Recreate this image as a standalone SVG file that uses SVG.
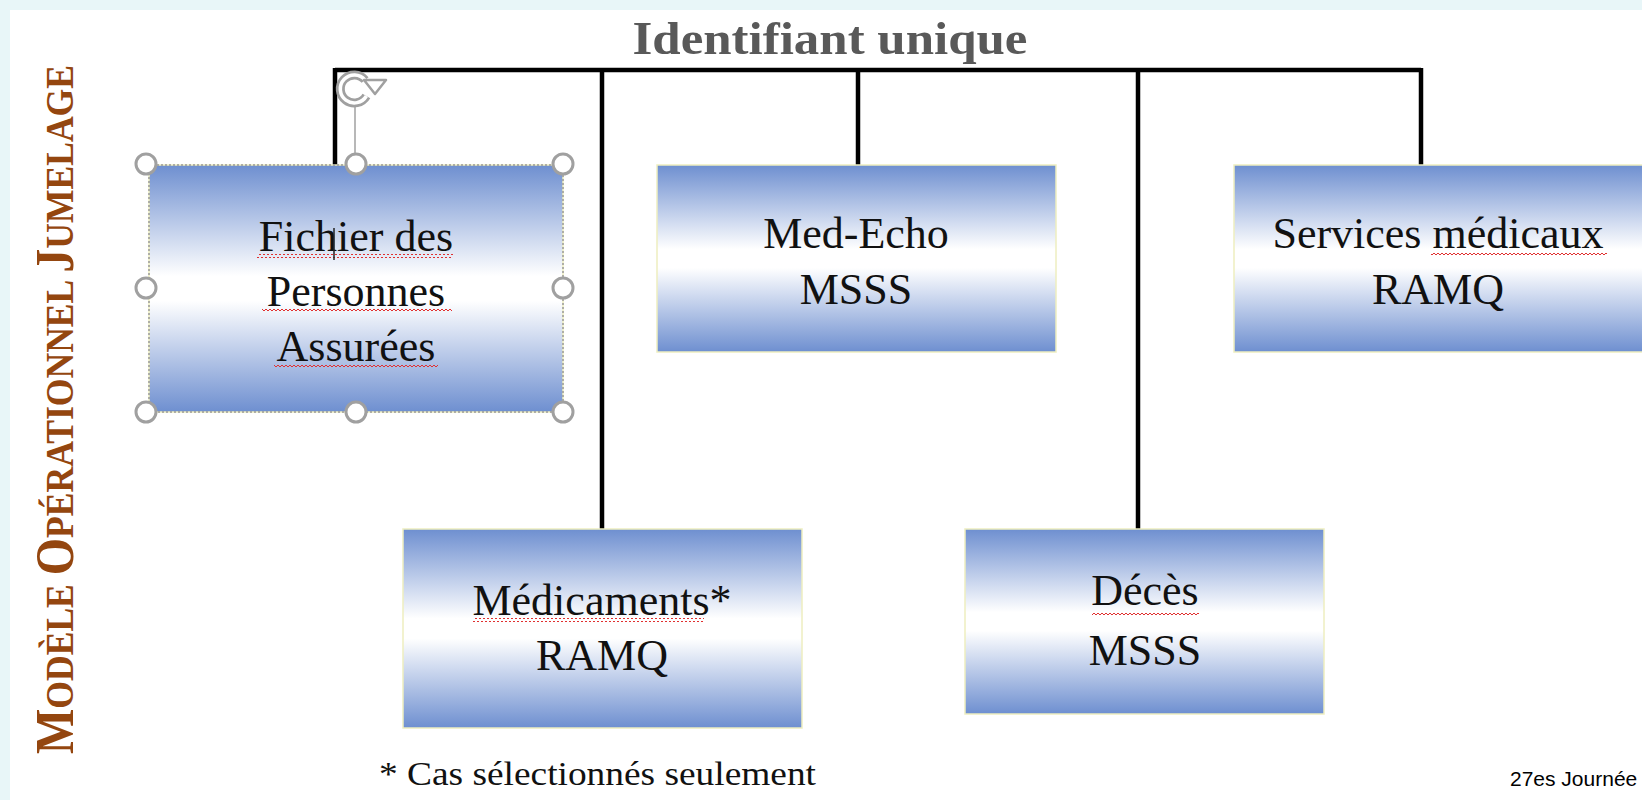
<svg xmlns="http://www.w3.org/2000/svg" width="1642" height="800" viewBox="0 0 1642 800">
<defs>
<linearGradient id="g" x1="0" y1="0" x2="0" y2="1">
<stop offset="0" stop-color="#6e8fd0"/>
<stop offset="0.45" stop-color="#ffffff"/>
<stop offset="0.55" stop-color="#ffffff"/>
<stop offset="1" stop-color="#6e8fd0"/>
</linearGradient>
<pattern id="sq" width="4" height="4" patternUnits="userSpaceOnUse">
<path d="M0,3 L2,1 L4,3" fill="none" stroke="#e03030" stroke-width="1"/>
</pattern>
<style>
.box{fill:url(#g);stroke:#eeeec0;stroke-width:1.5}
.t{font-family:"Liberation Serif",serif;font-size:44px;fill:#111;text-anchor:middle}
.c{stroke:#000;stroke-width:4.5;fill:none}
.h{fill:#fff;stroke:#a0a0a0;stroke-width:3}
.sq{fill:url(#sq)}
</style>
</defs>
<rect x="0" y="0" width="1642" height="800" fill="#e8f6f8"/>
<rect x="10" y="10" width="1632" height="790" fill="#ffffff"/>
<text x="830" y="54" font-family="Liberation Serif,serif" font-weight="bold" font-size="46" fill="#595959" text-anchor="middle" textLength="395" lengthAdjust="spacingAndGlyphs">Identifiant unique</text>
<text transform="translate(73,754) rotate(-90)" font-family="Liberation Serif,serif" font-weight="bold" fill="#94460f" textLength="689" lengthAdjust="spacingAndGlyphs"><tspan font-size="54">M</tspan><tspan font-size="40">ODÈLE </tspan><tspan font-size="54">O</tspan><tspan font-size="40">PÉRATIONNEL </tspan><tspan font-size="54">J</tspan><tspan font-size="40">UMELAGE</tspan></text>
<g id="connectors">
<path class="c" d="M335,70 H1421"/>
<path class="c" d="M335,68 V165"/>
<path class="c" d="M602,68 V529"/>
<path class="c" d="M858,68 V165"/>
<path class="c" d="M1138,68 V529"/>
<path class="c" d="M1421,68 V165"/>
</g>
<g id="fichier">
<rect class="box" x="149" y="165" width="414" height="247"/>
<rect x="149" y="165" width="414" height="247" fill="none" stroke="#999" stroke-width="1.5" stroke-dasharray="2,2"/>
<text class="t" x="356" y="251">Fichier des</text>
<text class="t" x="356" y="306">Personnes</text>
<text class="t" x="356" y="361">Assurées</text>
<rect class="sq" x="257" y="254" width="196" height="4"/>
<rect class="sq" x="262" y="309" width="190" height="4"/>
<rect class="sq" x="274" y="364" width="164" height="4"/>
<line x1="334" y1="228" x2="334" y2="260" stroke="#222" stroke-width="1.5"/>
<line x1="355" y1="103" x2="355" y2="154" stroke="#a0a0a0" stroke-width="1.5"/>
<circle class="h" cx="146" cy="164" r="10"/>
<circle class="h" cx="356" cy="164" r="10"/>
<circle class="h" cx="563" cy="164" r="10"/>
<circle class="h" cx="146" cy="288" r="10"/>
<circle class="h" cx="563" cy="288" r="10"/>
<circle class="h" cx="146" cy="412" r="10"/>
<circle class="h" cx="356" cy="412" r="10"/>
<circle class="h" cx="563" cy="412" r="10"/>
<path d="M365.1,80 A14,14 0 1 0 366.4,96" fill="none" stroke="#a0a0a0" stroke-width="9"/>
<path d="M365.1,80 A14,14 0 1 0 366.4,96" fill="none" stroke="#ffffff" stroke-width="3.5"/>
<path d="M364,80 L386,80 L375,94 Z" fill="#ffffff" stroke="#a0a0a0" stroke-width="2.5" stroke-linejoin="round"/>
</g>
<g id="medecho">
<rect class="box" x="657" y="165" width="399" height="187"/>
<text class="t" x="856" y="248">Med-Echo</text>
<text class="t" x="856" y="304">MSSS</text>
</g>
<g id="services">
<rect class="box" x="1234" y="165" width="420" height="187"/>
<text class="t" x="1438" y="248">Services médicaux</text>
<text class="t" x="1438" y="304">RAMQ</text>
<rect class="sq" x="1431" y="252" width="176" height="4"/>
</g>
<g id="medicaments">
<rect class="box" x="403" y="529" width="399" height="199"/>
<text class="t" x="602" y="615">Médicaments*</text>
<text class="t" x="602" y="670">RAMQ</text>
<rect class="sq" x="473" y="618" width="231" height="4"/>
</g>
<g id="deces">
<rect class="box" x="965" y="529" width="359" height="185"/>
<text class="t" x="1145" y="605">Décès</text>
<text class="t" x="1145" y="665">MSSS</text>
<rect class="sq" x="1092" y="612" width="107" height="4"/>
</g>
<text x="379" y="785" font-family="Liberation Serif,serif" font-size="34" fill="#111" textLength="437" lengthAdjust="spacingAndGlyphs">* Cas sélectionnés seulement</text>
<text x="1510" y="786" font-family="Liberation Sans,Arial,sans-serif" font-size="21" fill="#000">27es Journée</text>
</svg>
